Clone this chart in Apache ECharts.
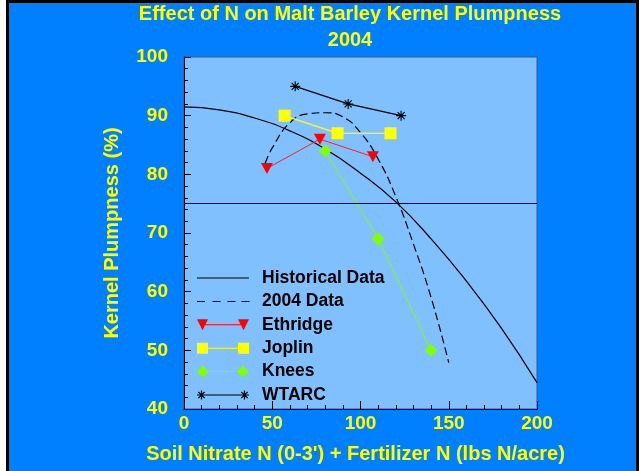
<!DOCTYPE html>
<html><head><meta charset="utf-8">
<script src="https://cdn.jsdelivr.net/npm/echarts@6/dist/echarts.min.js"></script>
<style>
html,body{margin:0;padding:0;background:#fff;overflow:hidden}
#frame{position:absolute;left:6px;top:0;width:627px;height:480px;border:3px solid #000;background:#0080FF}
#chart{position:absolute;left:0;top:0;width:644px;height:471px}
</style></head>
<body><div id="frame"></div><div id="chart"></div>
<script>
// ---- data ----
const titleLines = ['Effect of N on Malt Barley Kernel Plumpness', '2004'];
const xName = "Soil Nitrate N (0-3') + Fertilizer N (lbs N/acre)";
const yName = 'Kernel Plumpness (%)';
const seriesNames = ['Historical Data', '2004 Data', 'Ethridge', 'Joplin', 'Knees', 'WTARC'];

const historicalX = [0, 20, 40, 60, 80, 100, 120, 140, 160, 180, 200];
const historicalY = [91.5, 91.0, 89.6, 87.4, 84.3, 80.2, 75.3, 69.0, 61.8, 53.7, 44.5];

const data2004X = [46, 50, 60, 70, 80, 90, 100, 110, 120, 130, 140, 150];
const data2004Y = [81.9, 84.5, 88.8, 90.3, 90.5, 89.8, 87.1, 82.6, 76.2, 68.1, 59.0, 47.9];

const ethridgeX = [47, 77, 107];
const ethridgeY = [81, 86, 83];
const joplinX = [57, 87, 117];
const joplinY = [90, 87, 87];
const kneesX = [80, 110, 140];
const kneesY = [84, 69, 50];
const wtarcX = [63, 93, 123];
const wtarcY = [95, 92, 90];

const referenceLine = 75;

// ---- helpers ----
function pairs(xs, ys) { return xs.map((x, i) => [x, ys[i]]); }
function f(n) { return (Math.round(n * 100) / 100).toString(); }
function armRect(cx, cy, r, h, deg) {
  const t = deg * Math.PI / 180, dx = Math.cos(t), dy = Math.sin(t), nx = -dy, ny = dx;
  const p = [[cx - r*dx - h*nx, cy - r*dy - h*ny], [cx + r*dx - h*nx, cy + r*dy - h*ny],
             [cx + r*dx + h*nx, cy + r*dy + h*ny], [cx - r*dx + h*nx, cy - r*dy + h*ny]];
  return 'M' + p.map(q => f(q[0]) + ',' + f(q[1])).join(' L') + ' Z ';
}
function asterisk(cx, cy, r, h) {
  return armRect(cx, cy, r, h, 0) + armRect(cx, cy, r, h, 45) + armRect(cx, cy, r, h, 90) + armRect(cx, cy, r, h, 135);
}
const ANCH = 'M0,0 L0,0 Z M60,14 L60,14 Z ';
const lineBar = (x0, x1) => `M${x0},6.5 L${x1},6.5 L${x1},7.5 L${x0},7.5 Z `;
const icons = {
  'Historical Data': 'path://' + ANCH + lineBar(0, 52),
  '2004 Data': 'path://' + ANCH + lineBar(0, 8) + lineBar(15.5, 23.5) + lineBar(30.5, 38.5) + lineBar(44.5, 52.5),
  'Ethridge': 'path://' + ANCH + 'M0,1.5 L11,1.5 L5.5,12.5 Z M41,1.5 L52,1.5 L46.5,12.5 Z ' + lineBar(5, 47),
  'Joplin': 'path://' + ANCH + 'M0,1.5 L11,1.5 L11,12.5 L0,12.5 Z M41,1.5 L52,1.5 L52,12.5 L41,12.5 Z ' + lineBar(5, 47),
  'Knees': 'path://' + ANCH + 'M0,7 L6,1 L12,7 L6,13 Z M40,7 L46,1 L52,7 L46,13 Z ' + lineBar(5, 47),
  'WTARC': 'path://' + ANCH + asterisk(4.5, 7, 4.5, 0.6) + asterisk(47.5, 7, 4.5, 0.6) + lineBar(4.5, 47.5)
};
const asteriskSymbol = 'path://' + asterisk(10, 10, 10, 1.1);

const FONT = 'Arial, "Liberation Sans", Helvetica, sans-serif';
const YEL = '#FFFF00';

const chart = echarts.init(document.getElementById('chart'), null, {renderer: 'canvas'});
const option = {
  animation: false,
  title: {
    text: titleLines.join('\n'),
    left: 350, top: 1, padding: 0, textAlign: 'center',
    textStyle: {color: YEL, fontFamily: FONT, fontWeight: 'bold', fontSize: 20, lineHeight: 26}
  },
  legend: {
    orient: 'vertical', left: 197, top: 269, itemWidth: 60, itemHeight: 14, itemGap: 5.4,
    padding: 0, selectedMode: false,
    itemStyle: {borderWidth: 0},
    textStyle: {color: '#000', fontFamily: FONT, fontWeight: 'bold', fontSize: 17.5, lineHeight: 14},
    data: seriesNames.map(n => ({name: n, icon: icons[n]}))
  },
  grid: {left: 184, right: 107, top: 57, bottom: 62, show: true,
         backgroundColor: '#80C0FF', borderColor: '#3a5a8a', borderWidth: 1},
  xAxis: {
    type: 'value', min: 0, max: 200, interval: 50,
    name: xName, nameLocation: 'middle', nameGap: 35,
    nameTextStyle: {color: YEL, fontFamily: FONT, fontWeight: 'bold', fontSize: 20, padding: [0, 10, 0, 0]},
    axisLine: {show: true, lineStyle: {color: '#000', width: 1}},
    axisTick: {show: true, inside: true, length: 8, lineStyle: {color: '#000'}},
    minorTick: {show: true, splitNumber: 5, length: 4, lineStyle: {color: '#000'}},
    splitLine: {show: false},
    axisLabel: {color: YEL, fontFamily: FONT, fontWeight: 'bold', fontSize: 19, margin: 5}
  },
  yAxis: {
    type: 'value', min: 40, max: 100, interval: 10,
    name: yName, nameLocation: 'middle', nameGap: 62,
    nameTextStyle: {color: YEL, fontFamily: FONT, fontWeight: 'bold', fontSize: 20},
    axisLine: {show: true, lineStyle: {color: '#000', width: 1}},
    axisTick: {show: true, inside: true, length: 7, lineStyle: {color: '#000'}},
    minorTick: {show: true, splitNumber: 5, length: 4, lineStyle: {color: '#000'}},
    splitLine: {show: false},
    axisLabel: {color: YEL, fontFamily: FONT, fontWeight: 'bold', fontSize: 19, margin: 16}
  },
  series: [
    {
      name: 'Historical Data', type: 'line', data: pairs(historicalX, historicalY),
      smooth: true, showSymbol: false, symbol: 'none', color: '#000',
      lineStyle: {color: '#000', width: 1.2}, emphasis: {disabled: true}, z: 2,
      markLine: {silent: true, symbol: 'none', label: {show: false},
                 lineStyle: {color: '#000', width: 1, type: 'solid'},
                 data: [{yAxis: referenceLine}]}
    },
    {
      name: '2004 Data', type: 'line', data: pairs(data2004X, data2004Y),
      smooth: true, showSymbol: false, symbol: 'none', color: '#000',
      lineStyle: {color: '#000', width: 1.2, type: [8, 4]}, emphasis: {disabled: true}, z: 2
    },
    {
      name: 'Ethridge', type: 'line', data: pairs(ethridgeX, ethridgeY), color: '#FF0000',
      symbol: 'path://M0,0 L12,0 L6,11 Z', symbolSize: [12, 11], showSymbol: true,
      itemStyle: {color: '#FF0000', borderWidth: 0},
      lineStyle: {color: '#FF2020', width: 1}, emphasis: {disabled: true}, z: 3
    },
    {
      name: 'Joplin', type: 'line', data: pairs(joplinX, joplinY), color: '#FFFF00',
      symbol: 'rect', symbolSize: 12, showSymbol: true,
      itemStyle: {color: '#FFFF00', borderWidth: 0},
      lineStyle: {color: '#F0F040', width: 1.5}, emphasis: {disabled: true}, z: 3
    },
    {
      name: 'Knees', type: 'line', data: pairs(kneesX, kneesY), color: '#80FF00',
      symbol: 'diamond', symbolSize: 13, showSymbol: true,
      itemStyle: {color: '#80FF00', borderWidth: 0},
      lineStyle: {color: '#80FF00', width: 1}, emphasis: {disabled: true}, z: 3
    },
    {
      name: 'WTARC', type: 'line', data: pairs(wtarcX, wtarcY), color: '#000',
      symbol: asteriskSymbol, symbolSize: 10, showSymbol: true,
      itemStyle: {color: '#000', borderWidth: 0},
      lineStyle: {color: '#000', width: 1.2}, emphasis: {disabled: true}, z: 3
    }
  ]
};
chart.setOption(option);
</script>
</body></html>
